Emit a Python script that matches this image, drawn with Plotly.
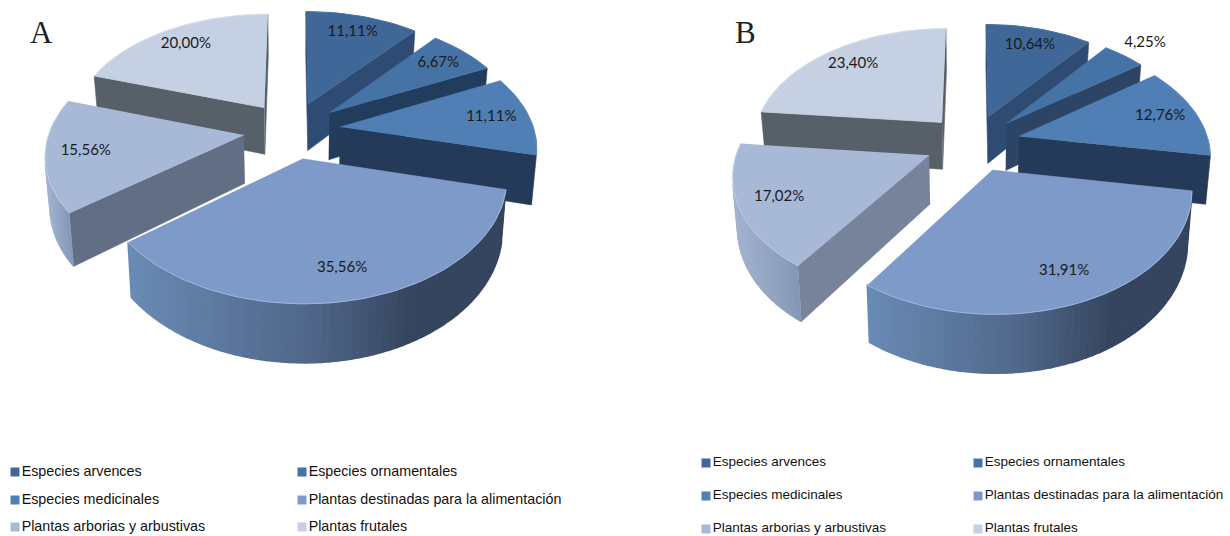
import numpy as np
import plotly.graph_objects as go

categories = ["Especies arvences", "Especies ornamentales", "Especies medicinales",
              "Plantas destinadas para la alimentación", "Plantas arborias y arbustivas", "Plantas frutales"]
values_a = [11.11, 6.67, 11.11, 35.56, 15.56, 20.00]
values_b = [10.64, 4.25, 12.76, 31.91, 17.02, 23.40]

top_colors = ["#3F6797", "#4673A6", "#4F7FB5", "#7D9AC8", "#A8B9D8", "#C5D1E3"]
wall_a = ["#2E4B73", "#223C5E", "#243A58", "#36455F", "#626E84", "#575F69"]
wall_b = ["#2E4B73", "#2C4566", "#243A58", "#36455F", "#76839B", "#575F69"]
edge_colors = ["#4A72A2", "#5280B2", "#5A8ABF", "#9DB8E0", "#BCCBE5", "#D2DCEB"]
rim_stops = [
    [(0, "#2E4B73"), (1, "#2E4B73")],
    [(0, "#243F63"), (1, "#243F63")],
    [(0, "#243A58"), (1, "#243A58")],
    [(0, "#6A8BB5"), (0.5, "#4E6587"), (0.75, "#36455F"), (1, "#36455F")],
    [(0, "#A3B3CF"), (1, "#8498B5")],
    [(0, "#575F69"), (1, "#575F69")],
]
legend_colors = ["#3F6797", "#4673A6", "#4F7FB5", "#7D9AC8", "#A8B9D8", "#C5D1E3"]

RY, PERSP, EXPLODE, DEPTH, BASE_SHRINK = 113.6, 0.15, 0.25, 48, 0.98

fig = go.Figure()


def hex_mix(stops, t):
    t = min(max(t, 0), 1)
    for (t0, c0), (t1, c1) in zip(stops, stops[1:]):
        if t <= t1:
            f = 0 if t1 == t0 else (t - t0) / (t1 - t0)
            a = [int(c0[i:i + 2], 16) for i in (1, 3, 5)]
            b = [int(c1[i:i + 2], 16) for i in (1, 3, 5)]
            return "rgb(%d,%d,%d)" % tuple(round(a[k] + (b[k] - a[k]) * f) for k in range(3))
    return stops[-1][1]


def poly(xs, ys, color, width=0.6):
    fig.add_trace(go.Scatter(x=list(xs), y=list(ys), mode="lines", fill="toself", fillcolor=color,
                             line=dict(color=color, width=width), hoverinfo="skip", showlegend=False))


def draw_pie(values, cx, cy, rx, walls):
    total = sum(values)
    edges = np.concatenate([[0], np.cumsum(values)]) / total * 2 * np.pi

    def project(x, y, base=False):
        w = 1 / (1 - PERSP * y)
        sx = cx + rx * x * w
        sy = cy + RY * y * w
        if base:
            sx = cx + (sx - cx) * BASE_SHRINK
            sy = sy + DEPTH * w
        return sx, sy

    def cross(a, b, c):
        return (b[0] - a[0]) * (c[1] - a[1]) - (b[1] - a[1]) * (c[0] - a[0])

    for i in [5, 0, 1, 2, 4, 3]:
        t0, t1 = edges[i], edges[i + 1]
        mid = (t0 + t1) / 2
        ox, oy = EXPLODE * np.sin(mid), -EXPLODE * np.cos(mid)
        th = np.linspace(t0, t1, max(int((t1 - t0) * 30), 8))
        ax, ay = ox + np.sin(th), oy - np.cos(th)
        tops = [project(x, y) for x, y in zip(ax, ay)]
        bots = [project(x, y, True) for x, y in zip(ax, ay)]
        apex, apex_b = project(ox, oy), project(ox, oy, True)
        inner = project(ox + 0.5 * np.sin(mid), oy - 0.5 * np.cos(mid))

        # radial walls that face the viewer
        for k in (0, -1):
            e, eb = tops[k], bots[k]
            if np.sign(cross(apex, e, apex_b)) != np.sign(cross(apex, e, inner)):
                poly([apex[0], e[0], eb[0], apex_b[0]], [apex[1], e[1], eb[1], apex_b[1]], walls[i])

        # outer rim, with its gradient along the screen
        vis = [j for j in range(len(tops) - 1)
               if np.sign(cross(tops[j], tops[j + 1], bots[j])) != np.sign(cross(tops[j], tops[j + 1], apex))]
        if vis:
            xs = [tops[j][0] for j in vis] + [tops[vis[-1] + 1][0]]
            lo, hi = min(xs), max(xs)
            for j in vis:
                f = ((tops[j][0] + tops[j + 1][0]) / 2 - lo) / max(hi - lo, 1)
                c = hex_mix(rim_stops[i], f)
                poly([tops[j][0], tops[j + 1][0], bots[j + 1][0], bots[j][0]],
                     [tops[j][1], tops[j + 1][1], bots[j + 1][1], bots[j][1]], c, width=1.6)

        # top surface
        poly([apex[0]] + [p[0] for p in tops], [apex[1]] + [p[1] for p in tops], top_colors[i])
        fig.add_trace(go.Scatter(x=[p[0] for p in tops], y=[p[1] for p in tops], mode="lines",
                                 line=dict(color=edge_colors[i], width=1), hoverinfo="skip", showlegend=False))

    # percentage labels
    for i, v in enumerate(values):
        mid = (edges[i] + edges[i + 1]) / 2
        r = 1.2 if v < 5 else 0.8
        ox, oy = EXPLODE * np.sin(mid), -EXPLODE * np.cos(mid)
        sx, sy = project(ox + r * np.sin(mid), oy - r * np.cos(mid))
        fig.add_trace(go.Scatter(x=[sx], y=[sy], mode="text", text=[f"{v:.2f}%".replace(".", ",")],
                                 textfont=dict(family="Lato", size=15, color="#1A1A1A"),
                                 hoverinfo="skip", showlegend=False))


draw_pie(values_a, 292, 130, 194, wall_a)
draw_pie(values_b, 973, 143, 190, wall_b)


def draw_legend(col_x, row_y, size, font_size):
    for i, name in enumerate(categories):
        fig.add_trace(go.Scatter(x=[col_x[i % 2]], y=[row_y[i // 2]], mode="markers+text", text=[name],
                                 textposition="middle right",
                                 marker=dict(symbol="square", size=size, color=legend_colors[i]),
                                 textfont=dict(family="Liberation Sans", size=font_size, color="#111111"),
                                 hoverinfo="skip", showlegend=False))


draw_legend([15, 302], [472, 500, 527], 9, 14.3)
draw_legend([706, 978], [463, 496, 529], 9, 13.5)

for txt, x, y in (("A", 41, 32), ("B", 745, 32)):
    fig.add_annotation(x=x, y=y, text=txt, showarrow=False,
                       font=dict(family="Liberation Serif", size=31, color="#222222"))

fig.update_layout(width=1230, height=536, margin=dict(l=0, r=0, t=0, b=0), autosize=False,
                  paper_bgcolor="white", plot_bgcolor="white", showlegend=False,
                  xaxis=dict(range=[0, 1230], visible=False, fixedrange=True),
                  yaxis=dict(range=[536, 0], visible=False, fixedrange=True))
fig.write_html("out.html", post_script="document.body.style.margin='0';",
               config={"displayModeBar": False})
